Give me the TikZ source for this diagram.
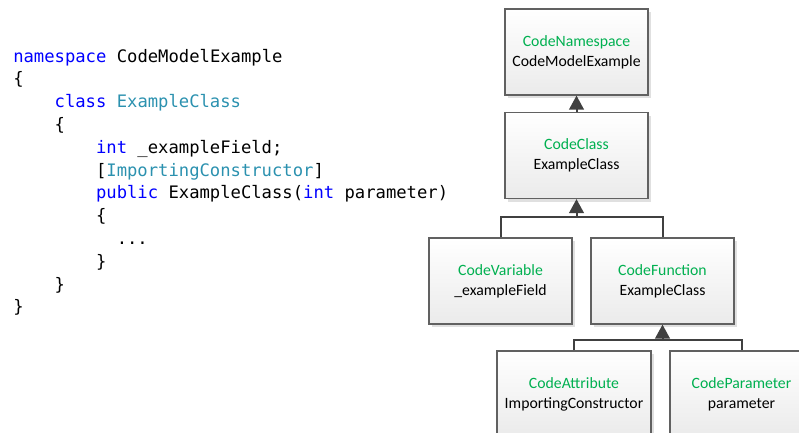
\documentclass[tikz,border=0pt]{standalone}
\usepackage{fontspec}
\setmainfont{Carlito}
\setmonofont{DejaVu Sans Mono}
\usetikzlibrary{arrows.meta,shadows}

\definecolor{kwblue}{RGB}{0,0,255}
\definecolor{typeteal}{RGB}{43,145,175}
\definecolor{kindgreen}{RGB}{0,176,80}
\definecolor{linegray}{RGB}{64,64,64}

\newcommand\kw[1]{\textcolor{kwblue}{#1}}
\newcommand\ty[1]{\textcolor{typeteal}{#1}}
\newcommand\kind[1]{\textcolor{kindgreen}{#1}}

\tikzset{
  elem/.style={draw=black!62, line width=0.9pt, top color=white, bottom color=black!8,
    minimum width=107.25pt, minimum height=64.5pt, align=center,
    font=\fontsize{11.8}{15}\selectfont,
    drop shadow={shadow xshift=2.5pt, shadow yshift=-2.5pt, fill=black!12, opacity=1}},
  link/.style={draw=linegray, line width=1.5pt},
  inherit/.style={link, -{Triangle[width=11pt,length=10.5pt]}},
  codeline/.style={anchor=base west, inner sep=0pt, font=\ttfamily\fontsize{12.9}{15}\selectfont}
}

\begin{document}
\begin{tikzpicture}[x=0.75pt,y=-0.75pt]
    \useasboundingbox (0,0) rectangle (799,432);
    \clip (0,0) rectangle (799,432);

    % Source code, one node per line
    \foreach \ind/\txt [count=\i] in {
      0/{\kw{namespace} CodeModelExample},
      0/\{,
      1/{\kw{class} \ty{ExampleClass}},
      1/\{,
      2/{\kw{int} \_exampleField;},
      2/{[\ty{ImportingConstructor}]},
      2/{\kw{public} ExampleClass(\kw{int} parameter)},
      2/\{,
      2.5/{...},
      2/\},
      1/\},
      0/\}} {
      \node[codeline] (l\i) at (13+41.4*\ind, 62+22.8*\i-22.8) {\txt};
    }

    % Code model elements
    \node[elem] (ns)  at (576.5,52)  {\kind{CodeNamespace}\\CodeModelExample};
    \node[elem] (cls) at (576.5,155.5) {\kind{CodeClass}\\ExampleClass};
    \node[elem] (var) at (500.5,281) {\kind{CodeVariable}\\\_exampleField};
    \node[elem] (fun) at (662.5,281) {\kind{CodeFunction}\\ExampleClass};
    \node[elem, minimum width=115.5pt] (attr) at (574,394) {\kind{CodeAttribute}\\ImportingConstructor};
    \node[elem] (par) at (741.5,394) {\kind{CodeParameter}\\parameter};

    % Joints of the tree
    \coordinate (j1) at (576.5,217);
    \coordinate (j2) at (662.5,340);

    % Parent links
    \draw[inherit] (cls) -- (ns);
    \draw[link] (var.north) |- (j1) -| (fun.north);
    \draw[inherit] (j1) -- (cls);
    \draw[link] (attr.north) |- (j2) -| (par.north);
    \draw[inherit] (j2) -- (fun);

  \end{tikzpicture}
\end{document}
